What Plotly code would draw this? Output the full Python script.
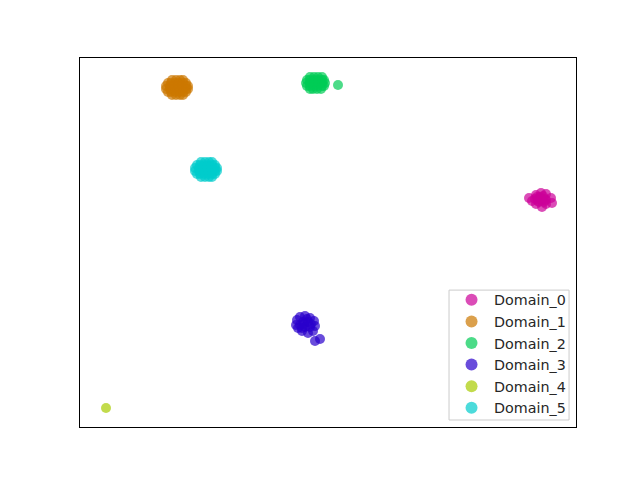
import plotly.graph_objects as go

# Embedding coordinates (arbitrary units)
domains = ["Domain_0", "Domain_1", "Domain_2", "Domain_3", "Domain_4", "Domain_5"]
colors = ["#cc0099", "#cc7700", "#00cc55", "#2a00cc", "#a8cc00", "#00cccc"]

d0_x = [529, 536, 541, 546, 551, 552, 546, 542, 536, 532, 538, 542, 545, 540, 539, 544, 535,
        541, 543, 538, 546, 537]
d0_y = [198, 195, 193, 194, 198, 203, 204, 207, 204, 201, 199, 200, 199, 197, 202, 202, 199,
        199, 196, 201, 200, 197]

d1_x = [172, 176, 180, 183,
        168, 171, 175, 179, 183, 186,
        166, 170, 174, 178, 182, 186, 188,
        166, 170, 174, 178, 182, 186, 188,
        168, 171, 175, 179, 183, 186,
        172, 176, 180, 183]
d1_y = [80, 80, 80, 80,
        83, 83, 83, 83, 83, 83,
        86, 86, 86, 86, 86, 86, 86,
        89, 89, 89, 89, 89, 89, 89,
        92, 92, 92, 92, 92, 92,
        95, 95, 95, 95]

d2_x = [310, 314, 318, 322,
        307, 310, 314, 318, 322, 324,
        306, 310, 314, 318, 322, 325,
        307, 310, 314, 318, 322, 324,
        310, 313, 317, 321,
        338]
d2_y = [77, 77, 77, 77,
        80, 80, 80, 80, 80, 80,
        83, 83, 83, 83, 83, 83,
        86, 86, 86, 86, 86, 86,
        89, 89, 89, 89,
        85]

d3_x = [296, 297, 300, 305, 310, 314, 315, 313, 308, 302, 298, 303, 308, 305, 310, 300,
        304, 307, 311, 302, 315, 320]
d3_y = [325, 320, 317, 316, 318, 321, 326, 331, 333, 331, 328, 322, 322, 327, 327, 325,
        324, 319, 324, 328, 341, 339]

d4_x = [106]
d4_y = [408]

d5_x = [201, 205, 209, 212,
        197, 200, 204, 208, 212, 215,
        195, 199, 203, 207, 211, 215, 217,
        195, 199, 203, 207, 211, 215, 217,
        197, 200, 204, 208, 212, 215,
        201, 205, 209, 212]
d5_y = [162, 162, 162, 162,
        165, 165, 165, 165, 165, 165,
        168, 168, 168, 168, 168, 168, 168,
        171, 171, 171, 171, 171, 171, 171,
        174, 174, 174, 174, 174, 174,
        177, 177, 177, 177]

xs = [d0_x, d1_x, d2_x, d3_x, d4_x, d5_x]
ys = [d0_y, d1_y, d2_y, d3_y, d4_y, d5_y]

fig = go.Figure()
for name, c, x, y in zip(domains, colors, xs, ys):
    fig.add_trace(go.Scatter(
        x=x, y=y, mode="markers", name=name,
        marker=dict(color=c, size=10, opacity=0.7, line=dict(width=0)),
    ))

# legend frame (matplotlib style box)
fig.add_shape(
    type="rect", xref="paper", yref="paper",
    x0=0.744, x1=0.986, y0=0.019, y1=0.371,
    fillcolor="rgba(255,255,255,0.8)", line=dict(color="#cccccc", width=1),
    layer="above",
)

fig.update_layout(
    width=640, height=480,
    margin=dict(l=72, r=72, t=50, b=61),
    paper_bgcolor="white", plot_bgcolor="white",
    font=dict(family="DejaVu Sans", size=14, color="#262626"),
    showlegend=True,
    legend=dict(
        x=0.744, y=0.3875, xanchor="left", yanchor="top",
        bgcolor="rgba(0,0,0,0)", borderwidth=0,
        font=dict(family="DejaVu Sans", size=14.3, color="#262626"),
        itemsizing="constant", itemwidth=35,
    ),
    xaxis=dict(range=[80, 576], showticklabels=False, ticks="", showgrid=False,
               zeroline=False, showline=True, linecolor="black", linewidth=1, mirror=True),
    yaxis=dict(range=[427, 58], showticklabels=False, ticks="", showgrid=False,
               zeroline=False, showline=True, linecolor="black", linewidth=1, mirror=True),
)

fig.write_html("out.html")
